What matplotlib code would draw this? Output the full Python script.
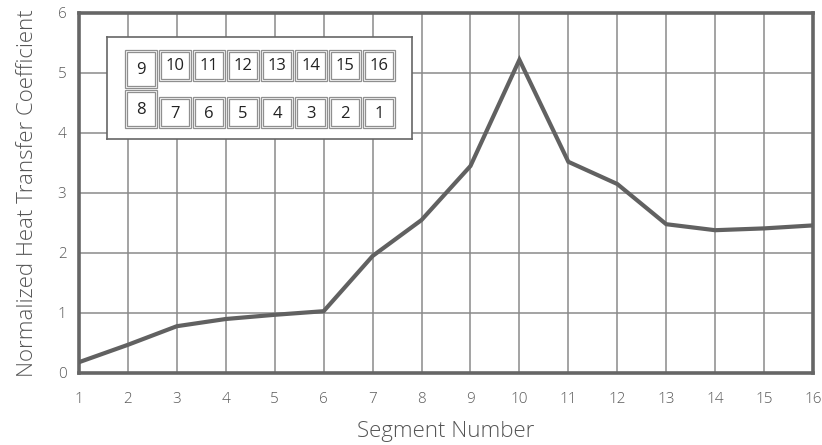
import matplotlib.pyplot as plt
from matplotlib.patches import Rectangle

segments = list(range(1, 17))
htc = [0.18, 0.47, 0.78, 0.90, 0.97, 1.03, 1.95, 2.55, 3.45, 5.22,
       3.52, 3.15, 2.48, 2.38, 2.41, 2.46]

top_row = ['9', '10', '11', '12', '13', '14', '15', '16']
bottom_row = ['8', '7', '6', '5', '4', '3', '2', '1']

plt.rcParams['font.family'] = ['Open Sans', 'DejaVu Sans']

W, H = 822, 445
fig = plt.figure(figsize=(W / 100, H / 100), dpi=100)
ax = fig.add_axes([79 / W, 1 - 373 / H, (813 - 79) / W, (373 - 13) / H])

ax.plot(segments, htc, color='#616161', lw=3, solid_joinstyle='miter', zorder=3)
ax.set_xlim(1, 16)
ax.set_ylim(0, 6)
ax.set_xticks(segments)
ax.set_yticks(range(0, 7))
ax.grid(True, color='#8a8a8a', lw=1.1)
ax.tick_params(length=0, labelsize=11, labelcolor='#5a5a5a')
ax.tick_params(axis='x', pad=14)
ax.tick_params(axis='y', pad=9)
for s in ax.spines.values():
    s.set_color('#666666')
    s.set_linewidth(2.6)
ax.set_xlabel('Segment Number', fontsize=16, color='#555555', labelpad=10,
              fontweight='light')
ax.set_ylabel('Normalized Heat Transfer Coefficient', fontsize=16,
              color='#555555', labelpad=14, fontweight='light')
for lbl in ax.get_xticklabels() + ax.get_yticklabels():
    lbl.set_fontweight('light')

# inset segment layout diagram, in pixel coords
ins = fig.add_axes([107 / W, 1 - 139 / H, (412 - 107) / W, (139 - 37) / H])
ins.set_xlim(107, 412)
ins.set_ylim(139, 37)
ins.set_xticks([])
ins.set_yticks([])
ins.set_facecolor('white')
for s in ins.spines.values():
    s.set_color('#666666')
    s.set_linewidth(1.2)


def cell(x0, y0, x1, y1, txt):
    for pad in (0, 2):
        ins.add_patch(Rectangle((x0 + pad, y0 + pad), x1 - x0 - 2 * pad,
                                y1 - y0 - 2 * pad, fill=False,
                                ec='#8f8f8f', lw=0.9))
    ins.text((x0 + x1) / 2, (y0 + y1) / 2 + 1, txt, ha='center',
             va='center', fontsize=12, color='#222222')


cell(125, 50, 157, 88, top_row[0])
cell(125, 90, 157, 128, bottom_row[0])
for i in range(1, 8):
    x0 = 159 + (i - 1) * 34
    cell(x0, 50, x0 + 32, 81, top_row[i])
    cell(x0, 97, x0 + 32, 128, bottom_row[i])

fig.savefig('out.png', dpi=100)
